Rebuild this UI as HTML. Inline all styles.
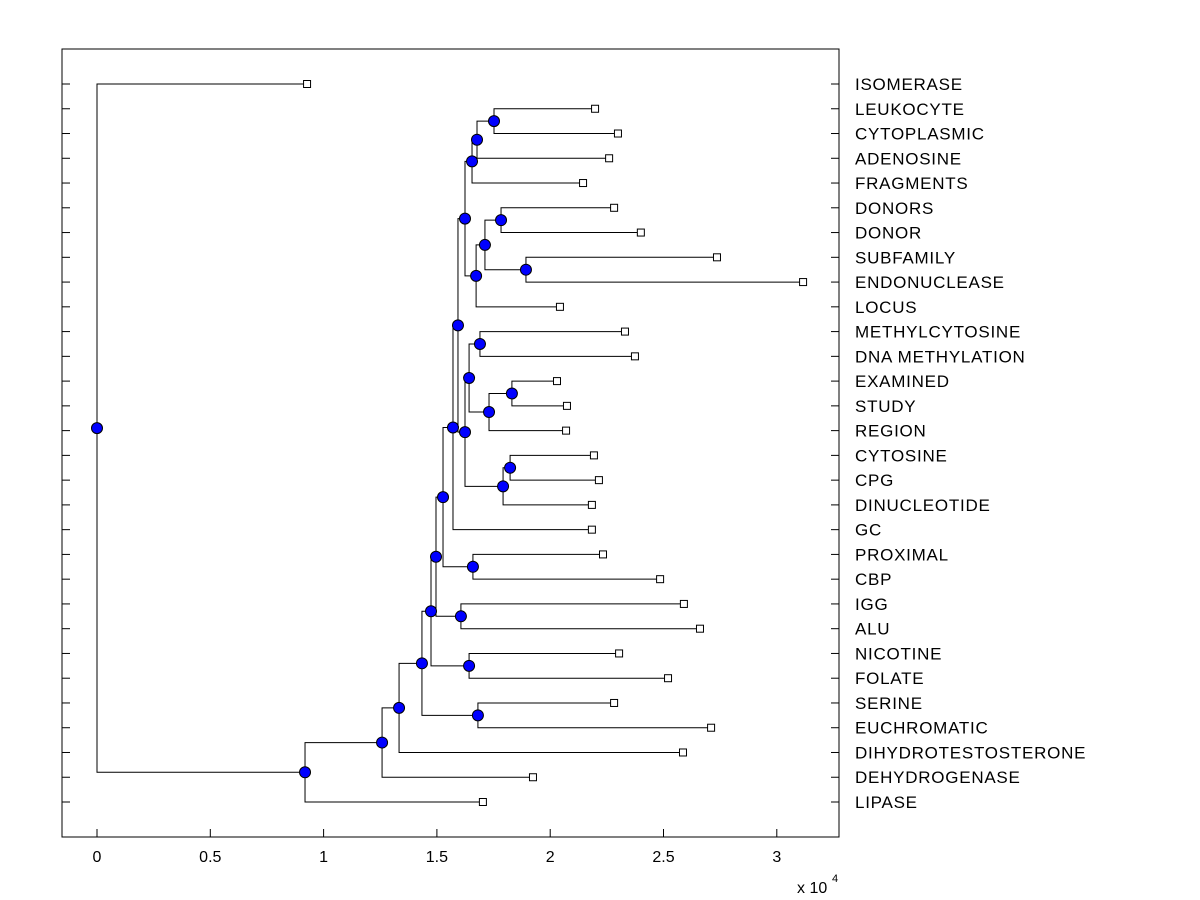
<!DOCTYPE html>
<html><head><meta charset="utf-8"><style>
body{margin:0;background:#fff;}
svg{display:block;font-family:"Liberation Sans",Arial,sans-serif;}
</style></head><body>
<svg id="chart" width="1200" height="900" viewBox="0 0 1200 900" xmlns="http://www.w3.org/2000/svg">
<rect x="0" y="0" width="1200" height="900" fill="#fff"/>
<g id="plot"></g>
</svg>
<script>
const leafLabels = ["ISOMERASE","LEUKOCYTE","CYTOPLASMIC","ADENOSINE","FRAGMENTS","DONORS","DONOR","SUBFAMILY","ENDONUCLEASE","LOCUS","METHYLCYTOSINE","DNA METHYLATION","EXAMINED","STUDY","REGION","CYTOSINE","CPG","DINUCLEOTIDE","GC","PROXIMAL","CBP","IGG","ALU","NICOTINE","FOLATE","SERINE","EUCHROMATIC","DIHYDROTESTOSTERONE","DEHYDROGENASE","LIPASE"];
const leafValues = [0.927,2.198,2.299,2.26,2.145,2.282,2.40,2.736,3.116,2.043,2.33,2.374,2.03,2.074,2.07,2.193,2.215,2.184,2.184,2.233,2.485,2.59,2.661,2.304,2.52,2.282,2.71,2.586,1.924,1.703];
// internal nodes: children ids (leaf index, or "n"+node index) and merge heights (x 10^4)
const nodeLeft  = [1,  "n0", "n1", 5, 7, "n3", "n5", "n2", 12, "n8", 10, "n10", 15, "n12", "n11", "n7", "n15", 19, "n17", 21, "n19", 23, "n21", 25, "n23", "n24", "n25", "n26", 0];
const nodeRight = [2,  3,    4,    6, 8, "n4", 9,    "n6", 13, 14,   11, "n9",  16, 17,    "n13", "n14", 18,   20, "n16", 22, "n18", 24, "n20", 26, "n22", 27,    28,    29,    "n27"];
const nodeHeight= [1.752,1.677,1.655,1.783,1.893,1.712,1.673,1.624,1.831,1.73,1.69,1.642,1.823,1.792,1.624,1.593,1.571,1.659,1.527,1.606,1.496,1.642,1.474,1.681,1.434,1.333,1.258,0.918,0];
const xTicks = [0,0.5,1,1.5,2,2.5,3];
const xTickLabels = ["0","0.5","1","1.5","2","2.5","3"];

const NS="http://www.w3.org/2000/svg";
const plot=document.getElementById('plot');
const L=62,R=839,T=49,B=837;
const xScale=v=>97+v*226.6;
const yScale=i=>84+i*(802-84)/(leafLabels.length-1);
function mk(tag,attrs){const e=document.createElementNS(NS,tag);for(const k in attrs)e.setAttribute(k,attrs[k]);plot.appendChild(e);return e;}

let box=mk('rect',{x:L,y:T,width:R-L,height:B-T,fill:'none',stroke:'#000','stroke-width':1});



xTicks.forEach((v,i)=>{
  const x=xScale(v);
  let t=mk('line',{x1:x,y1:B,x2:x,y2:B-8,stroke:'#000'});
  
  
  let tx=mk('text',{x:x,y:862,'font-size':16,'text-anchor':'middle',fill:'#000'});
  tx.textContent=xTickLabels[i];
  
  
});
let ex=mk('text',{x:797,y:893,'font-size':16,fill:'#000'});
ex.textContent='x 10';


let ex2=mk('text',{x:832,y:882,'font-size':11,fill:'#000'});
ex2.textContent='4';



leafLabels.forEach((lab,i)=>{
  const y=yScale(i);
  let t1=mk('line',{x1:L,y1:y,x2:L+8,y2:y,stroke:'#000'});
  
  
  let t2=mk('line',{x1:R,y1:y,x2:R-8,y2:y,stroke:'#000'});
  
  
  let tx=mk('text',{x:855,y:y+6,'font-size':17,'letter-spacing':0.75,fill:'#000'});
  tx.textContent=lab;
  
  
});

function pos(id){
  if(typeof id==='number') return {x:xScale(leafValues[id]),y:yScale(id),leaf:true};
  const k=+id.slice(1);
  const a=pos(nodeLeft[k]),b=pos(nodeRight[k]);
  return {x:xScale(nodeHeight[k]),y:(a.y+b.y)/2,leaf:false,a,b};
}
const circles=[],squares=[];
function draw(id){
  const p=pos(id);
  if(p.leaf){squares.push(p);return p;}
  const k=+id.slice(1);
  const a=draw(nodeLeft[k]),b=draw(nodeRight[k]);
  let pl=mk('polyline',{points:`${a.x},${a.y} ${p.x},${a.y} ${p.x},${b.y} ${b.x},${b.y}`,fill:'none',stroke:'#000','stroke-width':1});
  
  
  circles.push(p);
  return p;
}
draw('n'+(nodeHeight.length-1));
squares.forEach(p=>{
  let s=mk('rect',{x:p.x-3.5,y:p.y-3.5,width:7,height:7,fill:'#fff',stroke:'#000'});
  
  
});
circles.forEach(p=>{
  let c=mk('circle',{cx:p.x,cy:p.y,r:5.5,fill:'#0000ff',stroke:'#000','stroke-width':1});
  
  
});
</script>
</body></html>
